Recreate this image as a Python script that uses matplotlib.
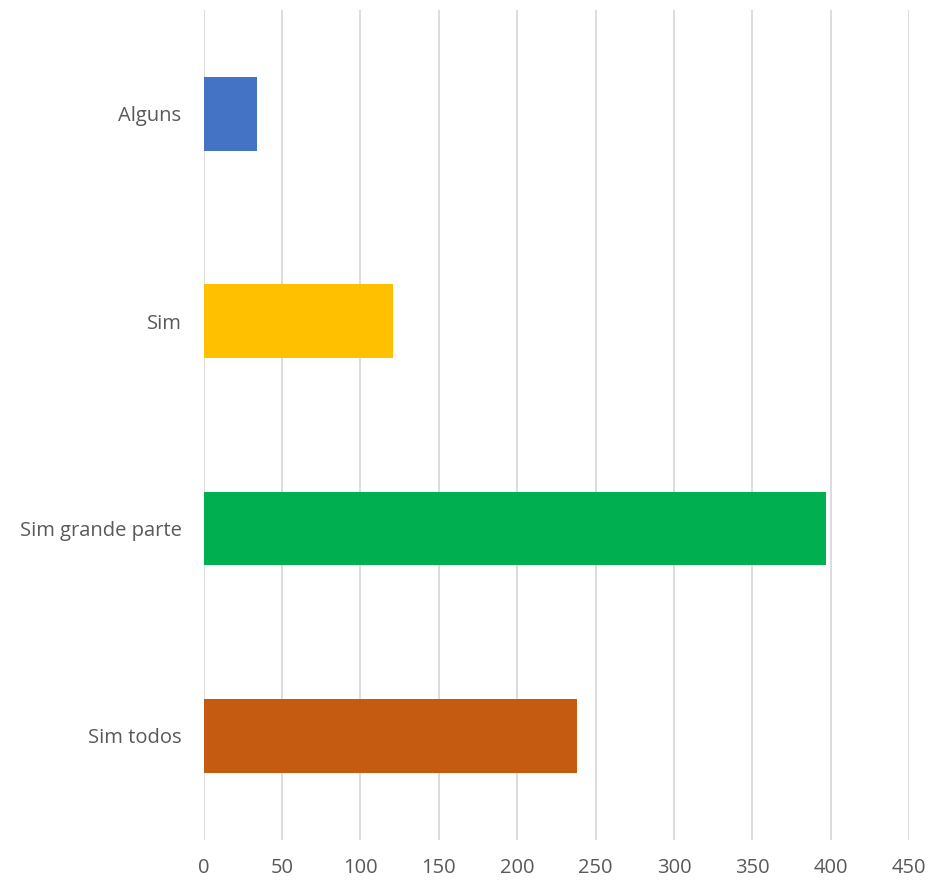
import matplotlib
matplotlib.use("Agg")
from matplotlib import pyplot as plt

categories = ["Sim todos", "Sim grande parte", "Sim", "Alguns"]
values = [238, 397, 121, 34]
colors = ["#C55A11", "#00B050", "#FFC000", "#4472C4"]
xticks = [0, 50, 100, 150, 200, 250, 300, 350, 400, 450]

plt.rcParams['font.family'] = ['Open Sans', 'DejaVu Sans']

fig = plt.figure(figsize=(9.32, 8.81), dpi=100)
ax = fig.add_axes([0.2186, 0.0469, 0.7567, 0.9417])

ax.barh(range(len(categories)), values, height=0.356, color=colors, zorder=3)

ax.set_xlim(0, 450)
ax.set_ylim(-0.5, len(categories) - 0.5)
ax.set_xticks(xticks)
ax.set_yticks(range(len(categories)))
ax.set_yticklabels(categories)

ax.grid(axis="x", color="#d9d9d9", linewidth=1.3, zorder=0)
for s in ax.spines.values():
    s.set_visible(False)
ax.tick_params(axis="both", length=0, labelsize=14.5, colors="#595959")
ax.tick_params(axis="x", pad=13)
ax.tick_params(axis="y", pad=16)

fig.savefig("out.png", dpi=100)
